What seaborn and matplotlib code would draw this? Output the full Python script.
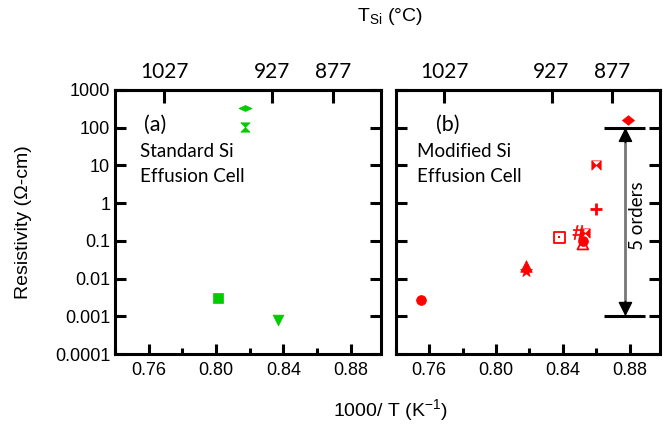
import matplotlib
matplotlib.use("Agg")
import matplotlib.pyplot as plt
import seaborn as sns
import numpy as np
import pandas as pd
from matplotlib.path import Path
from matplotlib.ticker import FixedLocator, MultipleLocator

sns.set_style("ticks")
plt.rcParams["font.family"] = ["Liberation Sans", "DejaVu Sans"]
plt.rcParams["mathtext.fontset"] = "custom"
plt.rcParams["mathtext.rm"] = "Liberation Sans"
for k in ["text.color", "axes.labelcolor", "xtick.color", "ytick.color",
          "axes.edgecolor"]:
    plt.rcParams[k] = "black"

# --- data -------------------------------------------------------------
# (a) standard Si effusion cell
a_x = [0.817, 0.817, 0.801, 0.837]
a_y = [330, 105, 0.003, 0.00078]
a_mk = ["hdiamond", "hourglass", "square", "tri_down"]

# (b) modified Si effusion cell
b_x = [0.755, 0.818, 0.818, 0.838, 0.849, 0.853, 0.852, 0.852, 0.860, 0.860, 0.879]
b_y = [0.0027, 0.022, 0.016, 0.125, 0.17, 0.16, 0.10, 0.082, 10, 0.68, 155]
b_mk = ["circle", "tri_up", "star", "sq_dot", "hash", "bowtie", "circle",
        "tri_open", "bowtie", "plus", "diamond"]

temp_labels = [1027, 927, 877]
y_ticks = [1e-4, 1e-3, 1e-2, 1e-1, 1, 10, 100, 1000]
y_labels = ["0.0001", "0.001", "0.01", "0.1", "1", "10", "100", "1000"]
x_ticks = [0.76, 0.80, 0.84, 0.88]

GREEN = "#00cc00"
RED = "#ff0000"

# --- marker shapes ----------------------------------------------------
hourglass = Path([(-1, 1), (1, 1), (0, 0), (1, -1), (-1, -1), (0, 0), (-1, 1)])
bowtie = Path([(-1, 1), (0, 0), (-1, -1), (-1, 1), (1, 1), (0, 0), (1, -1), (1, 1)])
hdiamond = Path([(-1, 0), (0, 0.45), (1, 0), (0, -0.45), (-1, 0)])
wdiamond = Path([(-1, 0), (0, 0.8), (1, 0), (0, -0.8), (-1, 0)])

MK = {
    "hdiamond": dict(marker=hdiamond, s=90),
    "hourglass": dict(marker=hourglass, s=45),
    "square": dict(marker="s", s=45),
    "tri_down": dict(marker="v", s=60),
    "circle": dict(marker="o", s=50),
    "tri_up": dict(marker="^", s=70),
    "star": dict(marker="*", s=80),
    "sq_dot": dict(marker="s", s=65, open=True),
    "hash": dict(marker="$\\#$", s=100),
    "bowtie": dict(marker=bowtie, s=45),
    "tri_open": dict(marker="^", s=60, open=True),
    "plus": dict(marker="+", s=70),
    "diamond": dict(marker=wdiamond, s=75),
}


def draw_points(ax, xs, ys, kinds, color):
    df = pd.DataFrame({"x": xs, "y": ys, "kind": kinds})
    for i, row in df.iterrows():
        spec = MK[row["kind"]]
        one = df.loc[[i]]
        if spec.get("open"):
            sns.scatterplot(data=one, x="x", y="y", ax=ax, marker=spec["marker"],
                            s=spec["s"], facecolor="none", edgecolor=color,
                            linewidth=1.3, legend=False, zorder=4)
            if row["kind"] == "sq_dot":
                sns.scatterplot(data=one, x="x", y="y", ax=ax, marker="s", s=4,
                                color=color, linewidth=0, legend=False, zorder=5)
        elif spec["marker"] == "+":
            sns.scatterplot(data=one, x="x", y="y", ax=ax, marker="+",
                            s=spec["s"], color=color, linewidth=2,
                            legend=False, zorder=4)
        else:
            sns.scatterplot(data=one, x="x", y="y", ax=ax, marker=spec["marker"],
                            s=spec["s"], color=color, edgecolor=color,
                            linewidth=0.5, legend=False, zorder=4)


fig = plt.figure(figsize=(6.63, 4.26), dpi=100)
ax_a = fig.add_axes([0.1735, 0.169, 0.401, 0.620])
ax_b = fig.add_axes([0.597, 0.169, 0.398, 0.620])

for ax in (ax_a, ax_b):
    ax.set_yscale("log")
    ax.set_ylim(1e-4, 1e3)
    ax.set_xlim(0.74, 0.898)
    for sp in ax.spines.values():
        sp.set_linewidth(2.2)
        sp.set_visible(True)
        sp.set_color("black")
    ax.yaxis.set_major_locator(FixedLocator(y_ticks))
    ax.yaxis.set_minor_locator(FixedLocator([]))
    ax.set_xticks(x_ticks)
    ax.set_xticklabels([f"{v:.2f}" for v in x_ticks])
    ax.xaxis.set_minor_locator(MultipleLocator(0.02))
    ax.tick_params(axis="y", which="major", direction="in", length=8, width=2.2,
                   left=True, right=True, labelsize=13)
    ax.tick_params(axis="x", which="major", direction="in", length=7, width=2.2,
                   bottom=True, top=False, labelsize=13, pad=6)
    ax.tick_params(axis="x", which="minor", direction="in", length=4, width=2.2,
                   bottom=True, top=False)
    # temperature axis on top
    top = ax.secondary_xaxis("top")
    top.set_xticks([1000 / (t + 273.15) for t in temp_labels])
    top.set_xticklabels([str(t) for t in temp_labels], family="Lato", fontsize=15)
    top.tick_params(direction="in", length=9, width=2.2, pad=6, colors="black")
    top.spines["top"].set_linewidth(2.2)
    top.spines["top"].set_color("black")

ax_a.set_yticklabels(y_labels)
ax_b.tick_params(axis="y", labelleft=False)

draw_points(ax_a, a_x, a_y, a_mk, GREEN)
draw_points(ax_b, b_x, b_y, b_mk, RED)

for ax in (ax_a, ax_b):
    ax.set_xlabel("")
    ax.set_ylabel("")

# panel texts
txt = dict(family="Lato", fontsize=13.5, color="black", va="center")
ax_a.text(0.757, 118, "(a)", fontsize=15.5, family="Lato", va="center")
ax_a.text(0.7546, 22.6, "Standard Si", **txt)
ax_a.text(0.7546, 5.2, "Effusion Cell", **txt)
ax_b.text(0.7642, 118, "(b)", fontsize=15.5, family="Lato", va="center")
ax_b.text(0.7527, 22.6, "Modified Si", **txt)
ax_b.text(0.7527, 5.2, "Effusion Cell", **txt)

# five-orders arrow
arrow_x = 0.8775
ax_b.hlines([100, 0.001], 0.8648, 0.889, color="black", lw=2.2, zorder=3)
ax_b.vlines(arrow_x, 0.0015, 70, color="#777777", lw=2, zorder=3)
ax_b.annotate("", xy=(arrow_x, 100), xytext=(arrow_x, 40),
              arrowprops=dict(arrowstyle="-|>", fc="black", ec="black",
                              lw=1, mutation_scale=22, shrinkA=0, shrinkB=0))
ax_b.annotate("", xy=(arrow_x, 0.001), xytext=(arrow_x, 0.0025),
              arrowprops=dict(arrowstyle="-|>", fc="black", ec="black",
                              lw=1, mutation_scale=22, shrinkA=0, shrinkB=0))
ax_b.text(0.8845, 0.46, "5 orders", rotation=90, ha="center", va="center",
          family="Lato", fontsize=13.5)

fig.text(0.036, 0.479, "Resistivity (\u03a9-cm)", rotation=90, ha="center",
         va="center", fontsize=14)
fig.text(0.588, 0.037, "1000/ T (K$^{-1}$)", ha="center", va="center", fontsize=14)
fig.text(0.588, 0.962, "T$_{\\mathrm{Si}}$ (\u00b0C)", ha="center", va="center",
         fontsize=14)

fig.savefig("out.png", dpi=100)
